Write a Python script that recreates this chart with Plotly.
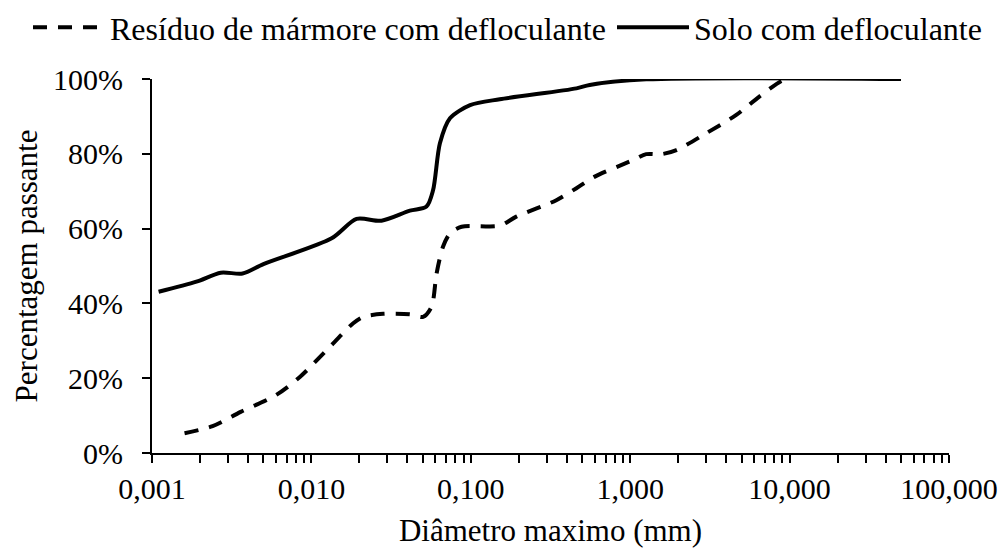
import plotly.graph_objects as go

# Curvas granulométricas (diâmetro em mm, percentagem passante)
residuo_diam = [0.0016, 0.0024, 0.0036, 0.006, 0.0085, 0.0134, 0.0183, 0.0211,
                0.0282, 0.0415, 0.0502, 0.0567, 0.061, 0.067, 0.074, 0.0875,
                0.152, 0.193, 0.344, 0.46, 0.6, 1.04, 1.26, 1.57, 1.95, 3.0,
                4.63, 6.46, 9.0, 10.0]
residuo_pass = [5.3, 7.2, 11.0, 15.5, 20.4, 28.9, 34.7, 36.4,
                37.2, 37.1, 36.4, 39.1, 48.0, 55.2, 58.7, 60.5,
                60.8, 63.2, 67.6, 70.8, 73.9, 78.3, 79.9, 79.9, 81.0, 85.5,
                90.4, 95.3, 99.6, 100.0]

solo_diam = [0.0011, 0.0019, 0.0027, 0.0037, 0.005, 0.0134, 0.0192, 0.0275,
             0.0415, 0.0527, 0.058, 0.064, 0.074, 0.099, 0.152, 0.46, 0.557,
             1.26, 50.0]
solo_pass = [43.1, 45.8, 48.2, 48.0, 50.5, 57.4, 62.6, 62.1,
             64.8, 65.9, 70.3, 82.8, 89.5, 93.0, 94.6, 97.5, 98.4,
             99.9, 100.0]

major_vals = [0.001, 0.01, 0.1, 1, 10, 100]
major_text = ["0,001", "0,010", "0,100", "1,000", "10,000", "100,000"]
minor_vals = [m * d for d in [0.001, 0.01, 0.1, 1, 10] for m in range(2, 10)]
y_vals = [0, 20, 40, 60, 80, 100]
y_text = ["0%", "20%", "40%", "60%", "80%", "100%"]

# todas as marcas do eixo x: décadas com rótulo, intermediárias sem rótulo
x_tick_vals = major_vals + minor_vals
x_tick_text = major_text + [""] * len(minor_vals)

FAMILY = "Times New Roman, Liberation Serif, serif"


def fnt(size):
    return dict(family=FAMILY, size=size, color="black")


fig = go.Figure()
fig.add_trace(go.Scatter(
    x=residuo_diam, y=residuo_pass, mode="lines",
    name="Resíduo de mármore com defloculante", legend="legend",
    line=dict(color="black", width=4, dash="14px,11px", shape="spline", smoothing=0.8),
))
fig.add_trace(go.Scatter(
    x=solo_diam, y=solo_pass, mode="lines",
    name="Solo com defloculante", legend="legend2",
    line=dict(color="black", width=4, shape="spline", smoothing=0.8),
))

# legenda em uma linha acima da área do gráfico
legend_common = dict(orientation="h", xref="container", xanchor="left",
                     y=1.0, yref="container", yanchor="top",
                     font=fnt(32), itemwidth=72, bgcolor="rgba(0,0,0,0)")

xr = [-3, 2]
fig.update_layout(
    width=1005, height=552,
    margin=dict(l=152, r=56, t=79, b=99, autoexpand=False),
    paper_bgcolor="white", plot_bgcolor="white",
    font=fnt(30),
    showlegend=True,
    legend=dict(x=28 / 1005, **legend_common),
    legend2=dict(x=612 / 1005, **legend_common),
    xaxis=dict(type="log", range=xr, showgrid=False, zeroline=False,
               showline=True, linecolor="black", linewidth=2,
               tickmode="array", tickvals=x_tick_vals, ticktext=x_tick_text,
               ticks="outside", ticklen=8, tickwidth=2, tickcolor="black",
               title=dict(text="Diâmetro maximo (mm)", font=fnt(31), standoff=15),
               tickfont=fnt(30)),
    xaxis2=dict(type="log", range=xr, overlaying="x", anchor="y", side="bottom",
                showgrid=False, zeroline=False, showline=False,
                tickmode="array", tickvals=x_tick_vals,
                ticks="inside", ticklen=8, tickwidth=2, tickcolor="black",
                showticklabels=False),
    yaxis=dict(range=[0, 100], showgrid=False, zeroline=False,
               showline=True, linecolor="black", linewidth=2,
               tickmode="array", tickvals=y_vals, ticktext=y_text,
               ticks="outside", ticklen=8, tickwidth=2, tickcolor="black",
               ticklabelstandoff=13,
               title=dict(text="Percentagem passante", font=fnt(31), standoff=6),
               tickfont=fnt(30)),
    yaxis2=dict(range=[0, 100], overlaying="y", anchor="x", side="left",
                showgrid=False, zeroline=False, showline=False,
                tickmode="array", tickvals=y_vals, ticks="inside",
                ticklen=8, tickwidth=2, tickcolor="black",
                showticklabels=False),
)

fig.write_html("out.html")
